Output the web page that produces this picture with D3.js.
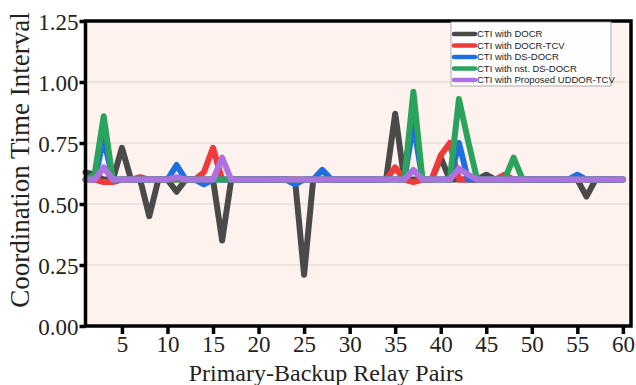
<!DOCTYPE html>
<meta charset="utf-8">
<script src="https://d3js.org/d3.v7.min.js"></script>
<style>
body { margin: 0; background: #fff; }
</style>
<div id="chart"></div>
<script>
// relay pair numbers 1..60
var pairs = [1,2,3,4,5,6,7,8,9,10,11,12,13,14,15,16,17,18,19,20,
             21,22,23,24,25,26,27,28,29,30,31,32,33,34,35,36,37,38,39,40,
             41,42,43,44,45,46,47,48,49,50,51,52,53,54,55,56,57,58,59,60];

var ctiDOCR = [0.63,0.62,0.6,0.6,0.73,0.6,0.6,0.45,0.6,0.6,0.55,0.6,0.6,0.6,0.6,0.35,0.6,0.6,0.6,0.6,
               0.6,0.6,0.6,0.6,0.21,0.6,0.6,0.6,0.6,0.6,0.6,0.6,0.6,0.6,0.87,0.6,0.6,0.6,0.6,0.69,
               0.6,0.6,0.6,0.6,0.62,0.6,0.6,0.6,0.6,0.6,0.6,0.6,0.6,0.6,0.6,0.53,0.6,0.6,0.6,0.6];
var ctiDOCRTCV = [0.6,0.6,0.59,0.59,0.6,0.6,0.61,0.6,0.6,0.6,0.6,0.6,0.6,0.63,0.73,0.6,0.6,0.6,0.6,0.6,
                  0.6,0.6,0.6,0.6,0.6,0.6,0.6,0.6,0.6,0.6,0.6,0.6,0.6,0.6,0.65,0.6,0.59,0.6,0.6,0.70,
                  0.75,0.6,0.6,0.6,0.6,0.6,0.62,0.6,0.6,0.6,0.6,0.6,0.6,0.6,0.6,0.6,0.6,0.6,0.6,0.6];
var ctiDSDOCR = [0.6,0.6,0.77,0.6,0.6,0.6,0.6,0.6,0.6,0.6,0.66,0.6,0.6,0.58,0.6,0.6,0.6,0.6,0.6,0.6,
                 0.6,0.6,0.6,0.58,0.6,0.6,0.64,0.6,0.6,0.6,0.6,0.6,0.6,0.6,0.6,0.6,0.83,0.6,0.6,0.6,
                 0.6,0.75,0.6,0.6,0.6,0.6,0.6,0.6,0.6,0.6,0.6,0.6,0.6,0.6,0.62,0.6,0.6,0.6,0.6,0.6];
var ctiNstDSDOCR = [0.6,0.62,0.86,0.6,0.6,0.6,0.6,0.6,0.6,0.6,0.6,0.6,0.6,0.6,0.6,0.6,0.6,0.6,0.6,0.6,
                    0.6,0.6,0.6,0.6,0.6,0.6,0.6,0.6,0.6,0.6,0.6,0.6,0.6,0.6,0.6,0.6,0.96,0.6,0.6,0.6,
                    0.6,0.93,0.76,0.6,0.6,0.6,0.6,0.69,0.6,0.6,0.6,0.6,0.6,0.6,0.6,0.6,0.6,0.6,0.6,0.6];
var ctiUDDOR = [0.6,0.6,0.65,0.6,0.6,0.6,0.6,0.6,0.6,0.6,0.61,0.6,0.6,0.6,0.6,0.69,0.6,0.6,0.6,0.6,
                0.6,0.6,0.6,0.6,0.6,0.6,0.6,0.6,0.6,0.6,0.6,0.6,0.6,0.6,0.6,0.6,0.64,0.6,0.6,0.6,
                0.6,0.645,0.62,0.6,0.6,0.6,0.6,0.6,0.6,0.6,0.6,0.6,0.6,0.6,0.6,0.6,0.6,0.6,0.6,0.6];

var seriesNames = ["CTI with DOCR", "CTI with DOCR-TCV", "CTI with DS-DOCR",
                   "CTI with nst. DS-DOCR", "CTI with Proposed UDDOR-TCV"];
var seriesValues = [ctiDOCR, ctiDOCRTCV, ctiDSDOCR, ctiNstDSDOCR, ctiUDDOR];
var seriesColors = ["#4a4a4a", "#f03a3a", "#1f6fe0", "#2aa45c", "#ae72e0"];

var xTicks = [5,10,15,20,25,30,35,40,45,50,55,60];
var yTicks = [0, 0.25, 0.5, 0.75, 1.0, 1.25];

var W = 636, H = 385;
var margin = {top: 21, right: 4, bottom: 59, left: 85.5};

var svg = d3.select("#chart").append("svg")
  .attr("width", W).attr("height", H);

var x = d3.scaleLinear().domain([1, 61]).range([margin.left, W - margin.right]);
var y = d3.scaleLinear().domain([0, 1.25]).range([H - margin.bottom, margin.top]);

// plot background
svg.append("rect")
  .attr("x", x(1)).attr("y", y(1.25))
  .attr("width", x(61) - x(1)).attr("height", y(0) - y(1.25))
  .attr("fill", "#fdf2ed");

// grid
svg.append("g").selectAll("line")
  .data(yTicks.slice(1, 5))
  .enter().append("line")
    .attr("x1", x(1)).attr("x2", x(61))
    .attr("y1", function(d) { return y(d); })
    .attr("y2", function(d) { return y(d); })
    .attr("stroke", "#dcd6d2").attr("stroke-width", 1);

// lines
var line = d3.line()
  .x(function(d, i) { return x(pairs[i]); })
  .y(function(d) { return y(d); });

svg.append("g").selectAll("path")
  .data(seriesValues)
  .enter().append("path")
    .attr("d", line)
    .attr("fill", "none")
    .attr("stroke", function(d, i) { return seriesColors[i]; })
    .attr("stroke-width", 6)
    .attr("stroke-linejoin", "round")
    .attr("stroke-linecap", "round");

// frame
svg.append("rect")
  .attr("x", x(1)).attr("y", y(1.25))
  .attr("width", x(61) - x(1) - 1).attr("height", y(0) - y(1.25))
  .attr("fill", "none").attr("stroke", "#000").attr("stroke-width", 3.5);

// axes
var xAxis = svg.append("g")
  .attr("transform", "translate(0," + y(0) + ")")
  .call(d3.axisBottom(x).tickValues(xTicks).tickSize(8).tickPadding(2));
var yAxis = svg.append("g")
  .attr("transform", "translate(" + x(1) + ",0)")
  .call(d3.axisLeft(y).tickValues(yTicks).tickFormat(d3.format(".2f")).tickSize(6).tickPadding(1));

[xAxis, yAxis].forEach(function(a) {
  a.select(".domain").remove();
  a.selectAll(".tick line").attr("stroke", "#000").attr("stroke-width", 3.5);
  a.selectAll("text")
    .attr("fill", "#222")
    .style("font-family", "'Liberation Serif', 'Times New Roman', serif")
    .style("font-size", "23px");
});
xAxis.selectAll("text").attr("dy", "0.7em");
yAxis.selectAll("text").attr("dy", "0.35em");

// axis titles
svg.append("text")
  .attr("x", 326).attr("y", 381)
  .attr("text-anchor", "middle")
  .attr("fill", "#222")
  .style("font-family", "'Liberation Serif', 'Times New Roman', serif")
  .style("font-size", "24px")
  .text("Primary-Backup Relay Pairs");

svg.append("text")
  .attr("transform", "translate(29," + 160 + ") rotate(-90)")
  .attr("text-anchor", "middle")
  .attr("fill", "#222")
  .style("font-family", "'Liberation Serif', 'Times New Roman', serif")
  .style("font-size", "27px")
  .text("Coordination Time Interval");

// legend
var lg = svg.append("g").attr("transform", "translate(451,22)");
lg.append("rect")
  .attr("x", 0).attr("y", 0).attr("width", 160).attr("height", 64)
  .attr("fill", "#fefefe").attr("stroke", "#999").attr("stroke-width", 0.8);

var rows = lg.selectAll("g.row")
  .data(seriesNames)
  .enter().append("g")
    .attr("class", "row")
    .attr("transform", function(d, i) { return "translate(0," + (12 + i * 11.5) + ")"; });
rows.append("line")
  .attr("x1", 3).attr("x2", 24)
  .attr("stroke", function(d, i) { return seriesColors[i]; })
  .attr("stroke-width", 4.5)
  .attr("stroke-linecap", "round");
rows.append("text")
  .attr("x", 26).attr("dy", "0.35em")
  .attr("fill", "#222")
  .style("font-family", "'Liberation Sans', Arial, sans-serif")
  .style("font-size", "9.5px")
  .text(function(d) { return d; });
</script>
